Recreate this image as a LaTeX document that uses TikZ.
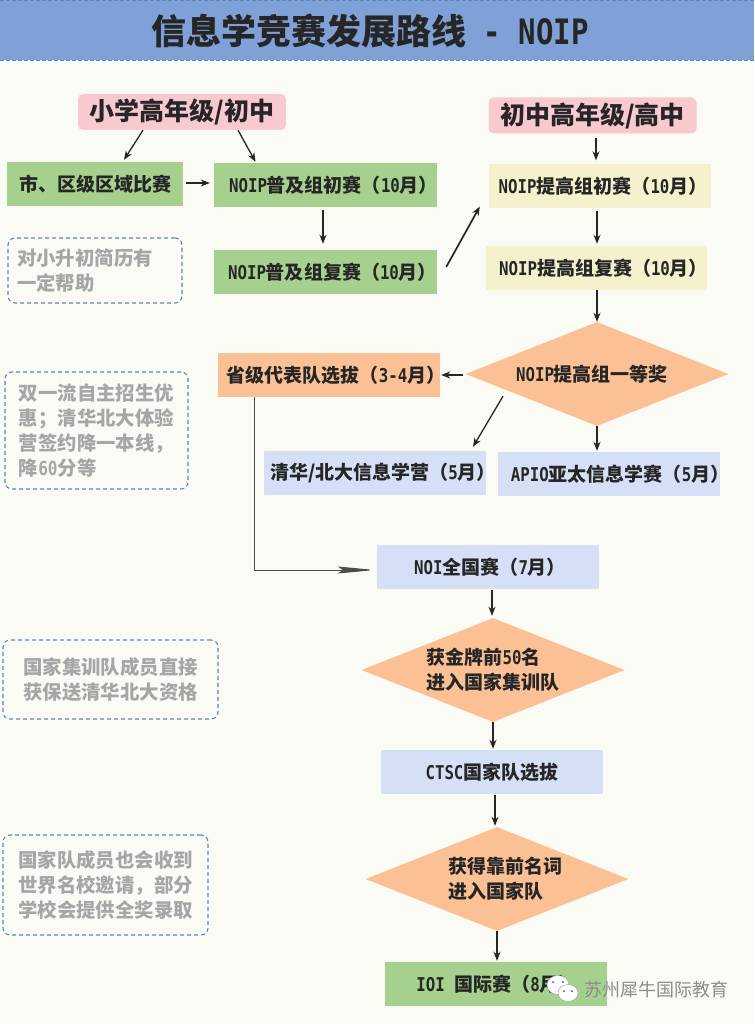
\documentclass[tikz,border=0pt]{standalone}
\usepackage{fontspec}
\setmainfont{Noto Sans CJK SC}
\newfontfamily\lat[Scale=1,FakeStretch=0.83]{DejaVu Sans Mono}
\usetikzlibrary{shapes.geometric,arrows.meta}
\definecolor{bandblue}{HTML}{7FA1D8}
\definecolor{paper}{HTML}{FBFBF5}
\definecolor{pinkfill}{HTML}{F9C9D0}
\definecolor{greenfill}{HTML}{A6D08E}
\definecolor{yellowfill}{HTML}{F5F1CC}
\definecolor{orangefill}{HTML}{FBC194}
\definecolor{bluefill}{HTML}{D5E0F7}
\definecolor{dashblue}{HTML}{5E87B8}
\newcommand{\padded}[2]{\makebox[0pt]{\hspace*{#1}#2}}
\tikzset{
	boxtext/.style={font=\fontsize{19}{25}\selectfont\bfseries,text=black!85},
	stage/.style={boxtext,minimum width=222pt,minimum height=44pt,inner sep=0pt},
	grade/.style={font=\fontsize{25}{30}\selectfont\bfseries,text=black!85,fill=pinkfill,rounded corners=5pt,minimum width=208pt,minimum height=36pt,inner sep=0pt},
	prize/.style={boxtext,diamond,aspect=2.53,fill=orangefill,minimum width=263pt,minimum height=104pt,inner sep=0pt,align=left},
	note/.style={draw=dashblue,dash pattern=on 4pt off 3pt,line width=1.1pt,rounded corners=7pt,inner sep=0pt,text=black!35,font=\fontsize{19.4}{25}\selectfont\bfseries},
	link/.style={-{Stealth[length=9pt,width=7pt]},line width=1.3pt,black!85},
}
\begin{document}
\begin{tikzpicture}[x=1pt,y=-1pt]
	\useasboundingbox (0,0) rectangle (754,1024);
	\fill[paper] (0,0) rectangle (754,1024);
	\fill[bandblue] (0,0) rectangle (754,60); % title band
	\draw[dashblue,dash pattern=on 4pt off 2pt,line width=.7pt] (0,.5) -- (754,.5) (0,60.5) -- (754,60.5);
	\node[font=\fontsize{35}{40}\selectfont\bfseries,text=black!85] (title) at (370,31) {信息学竞赛发展路线{\lat\ - NOIP}};
	% grades
	\node[grade] (lower) at (182,112) {小学高年级/初中};
	\node[grade] (upper) at (592.5,115.5) {初中高年级/高中};
	% green and yellow stages
	\node[stage,fill=greenfill,minimum width=176pt] (city) at (95,184) {\padded{0pt}{市、区级区域比赛}};
	\node[stage,fill=greenfill,minimum width=223pt] (popA) at (325.5,185) {\padded{16pt}{{\lat NOIP}普及组初赛（{\lat 10}月）}};
	\node[stage,fill=greenfill,minimum width=223pt] (popB) at (325.5,272) {\padded{14pt}{{\lat NOIP}普及组复赛（{\lat 10}月）}};
	\node[stage,fill=yellowfill] (advA) at (600,186.5) {\padded{6pt}{{\lat NOIP}提高组初赛（{\lat 10}月）}};
	\node[stage,fill=yellowfill,minimum width=221pt] (advB) at (596.5,268) {\padded{14pt}{{\lat NOIP}提高组复赛（{\lat 10}月）}};
	% first prize and what follows
	\node[prize] (first) at (597,374) {\padded{-10pt}{{\lat NOIP}提高组一等奖}};
	\node[stage,fill=orangefill] (prov) at (329,375) {\padded{14pt}{省级代表队选拔（{\lat 3-4}月）}};
	\node[stage,fill=bluefill] (camp) at (375,473) {\padded{16pt}{清华/北大信息学营（{\lat 5}月）}};
	\node[stage,fill=bluefill] (apio) at (609,474) {\padded{22pt}{{\lat APIO}亚太信息学赛（{\lat 5}月）}};
	\node[stage,fill=bluefill] (noi) at (488,567) {\padded{4pt}{{\lat NOI}全国赛（{\lat 7}月）}};
	\node[prize] (gold) at (493,670) {获金牌前{\lat 50}名\\进入国家集训队};
	\node[stage,fill=bluefill] (ctsc) at (492,772) {{\lat CTSC}国家队选拔};
	\node[prize] (team) at (497,879) {\hspace*{16pt}获得靠前名词\\\hspace*{16pt}进入国家队};
	\node[stage,fill=greenfill] (ioi) at (496,984) {\padded{2pt}{{\lat IOI\ }国际赛（{\lat 8}月）}};
	% notes
	\node[note,minimum width=174pt,minimum height=65pt,align=left] (noteA) at (95,270.5) {对小升初简历有\hspace*{20pt}\\一定帮助};
	\node[note,minimum width=183pt,minimum height=117pt,align=left] (noteB) at (96.5,430.5) {双一流自主招生优\\惠；清华北大体验\\营签约降一本线，\\降{\lat 60}分等};
	\node[note,minimum width=215pt,minimum height=79pt,align=center] (noteC) at (110.5,679.5) {国家集训队成员直接\\获保送清华北大资格};
	\node[note,minimum width=205pt,minimum height=100pt,align=center] (noteD) at (105.5,885) {国家队成员也会收到\\世界名校邀请，部分\\学校会提供全奖录取};
	% connectors
	\draw[link] ([xshift=-39pt]lower.south) -- ([xshift=29pt,yshift=2pt]city.north);
	\draw[link] ([xshift=56pt]lower.south) -- ([xshift=-70pt,yshift=1pt]popA.north);
	\draw[link] ([xshift=3pt,yshift=1pt]city.east) -- ([xshift=-4pt,yshift=2pt]popA.west);
	\draw[link] ([xshift=-2.5pt,yshift=-3pt]popA.south) -- ([xshift=-2.5pt,yshift=6pt]popB.north);
	\draw[link,line width=1.7pt] ([xshift=9pt,yshift=5pt]popB.east) -- ([xshift=-9pt,yshift=-20pt]advA.west);
	\draw[link] ([xshift=3.5pt,yshift=-4pt]upper.south) -- ([xshift=-4pt,yshift=4pt]advA.north);
	\draw[link] ([xshift=-3pt,yshift=-2pt]advA.south) -- ([xshift=.5pt,yshift=2pt]advB.north);
	\draw[link] ([xshift=.5pt]advB.south) -- (first.north);
	\draw[link] ([xshift=-2pt,yshift=-1pt]first.west) -- ([xshift=1pt]prov.east);
	\draw[link] ([xshift=-94pt,yshift=30pt]first.south) -- ([xshift=98pt,yshift=4pt]camp.north);
	\draw[link] (first.south) -- ([xshift=-12pt,yshift=1pt]apio.north);
	\draw[link,black!70,-{Stealth[length=37pt,width=7pt,inset=5pt]},line width=1pt] ([xshift=-75pt]prov.south) |- ([xshift=-2pt,yshift=-3pt]noi.west);
	\draw[link] ([xshift=4pt,yshift=-1pt]noi.south) -- ([yshift=2pt,xshift=-1pt]gold.north);
	\draw[link] (gold.south) -- ([xshift=1pt,yshift=1pt]ctsc.north);
	\draw[link] ([xshift=3pt,yshift=-1pt]ctsc.south) -- ([xshift=-2pt,yshift=1pt]team.north);
	\draw[link,line width=1.6pt] (team.south) -- ([xshift=1pt,yshift=1pt]ioi.north);
	% watermark
	\fill[white,draw=black!35,line width=.5pt] (558,985) ellipse (11pt and 9.5pt);
	\fill[white,draw=black!35,line width=.5pt] (568,993) ellipse (10pt and 8.5pt);
	\fill[black!70] (553,982) circle (1pt) (563,982) circle (1pt) (564,991) circle (1pt) (572,991) circle (1pt);
	\node[font=\fontsize{18}{20}\selectfont,text=black!45] (mark) at (656,990) {苏州犀牛国际教育};
\end{tikzpicture}
\end{document}
